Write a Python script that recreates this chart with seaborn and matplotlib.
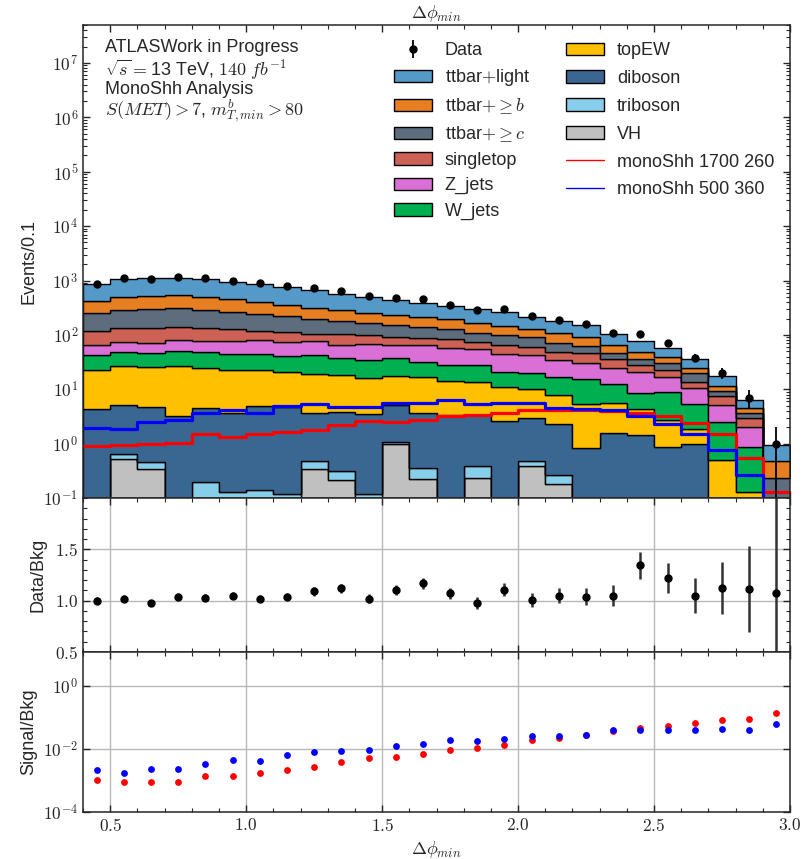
import numpy as np
import pandas as pd
import seaborn as sns
import matplotlib.pyplot as plt
import matplotlib.patches as mpatches
from matplotlib.lines import Line2D
from matplotlib.ticker import LogLocator, MultipleLocator, FuncFormatter, NullLocator, NullFormatter

# binning of delta phi min
edges = [round(0.4 + 0.1 * i, 2) for i in range(27)]
centers = (np.array(edges[:-1]) + np.array(edges[1:])) / 2

# cumulative stack tops (bottom -> top)
top_vh = [0, 0.53, 0.34, 0, 0, 0, 0, 0, 0.34, 0.21, 0, 1.0, 0.22, 0, 0.23, 0, 0.39, 0.18, 0, 0, 0, 0, 0, 0, 0, 0]
top_triboson = [0, 0.65, 0.46, 0, 0.2, 0.13, 0.14, 0.12, 0.47, 0.31, 0.12, 1.07, 0.36, 0, 0.39, 0, 0.47, 0.26, 0, 0, 0, 0, 0, 0, 0, 0]
top_diboson = [4.4, 5.1, 4.7, 3.2, 4.6, 3.6, 4.9, 4.7, 3.7, 3.8, 3.5, 5.2, 3.7, 3.4, 3.3, 2.6, 2.9, 2.3, 0.84, 1.56, 1.42, 0.86, 1.0, 0, 0, 0]
top_topew = [22.4, 27, 25.8, 26.6, 24.8, 23, 22.2, 20.7, 19.2, 18.2, 16.3, 17.9, 16.7, 14.1, 13.7, 11, 10.3, 7.7, 5.4, 5.6, 4.4, 2.68, 1.87, 0.5, 0.13, 0]
top_wjets = [43, 47.5, 47, 51, 47.5, 44, 43.6, 40.6, 41.8, 36.8, 33.9, 36.8, 31.6, 27.8, 27.7, 21, 19.5, 17, 15.5, 12.7, 8.6, 8.9, 5.3, 2.5, 0.86, 0]
top_zjets = [65, 75, 72, 80, 78, 77, 80, 74.6, 76.8, 63.8, 66.7, 63.8, 63.8, 56.2, 56, 44, 42, 34, 30, 25, 20.9, 16.9, 10.6, 5.1, 2.0, 0]
top_singletop = [119, 132, 132, 138, 132, 127, 117, 112, 106, 102, 97.5, 90.8, 88, 82.4, 75, 65, 59, 49, 45.5, 35.3, 27.7, 23, 13.7, 7.4, 2.9, 0]
top_ttc = [256, 287, 299, 309, 287, 266, 247, 221, 197, 179, 162, 151, 141, 126, 110, 99, 90, 72, 62, 46.8, 35.3, 29.8, 19.5, 9.3, 3.7, 0.23]
top_ttb = [427, 492, 528, 544, 507, 450, 411, 362, 315, 281, 255, 231, 212, 192, 163, 146, 126, 110, 90, 65, 49, 38.5, 25, 11.7, 4.6, 0.47]
top_ttlight = [868, 1075, 1104, 1120, 1075, 935, 870, 755, 664, 569, 501, 435, 389, 338, 296, 268, 216, 180, 152, 104, 78, 58, 36.3, 17.8, 6.3, 0.93]

data = [868, 1097, 1082, 1165, 1107, 982, 887, 785, 724, 637, 511, 479, 455, 362, 290, 297, 218, 189, 158, 109, 105, 71, 38, 20, 7, 1]

sig_1700_260 = [0.9, 0.94, 1.0, 1.02, 1.48, 1.33, 1.5, 1.65, 1.8, 2.2, 2.65, 2.45, 2.75, 3.25, 3.3, 3.6, 4.1, 4.1, 4.2, 4.0, 3.6, 3.2, 2.4, 1.5, 0.55, 0.13]
sig_500_360 = [1.92, 1.85, 2.5, 2.68, 3.7, 4.2, 3.7, 4.85, 5.3, 4.8, 4.8, 5.5, 5.6, 6.4, 5.3, 5.5, 5.5, 4.5, 4.3, 4.1, 3.2, 2.3, 1.5, 0.75, 0.26, 0.06]

# legend order = stack order from top to bottom
samples = ['ttbar+light', 'ttbar+b', 'ttbar+c', 'singletop', 'Z_jets', 'W_jets',
           'topEW', 'diboson', 'triboson', 'VH']
labels = ['ttbar$+$light', r'ttbar$+\geq b$', r'ttbar$+\geq c$', 'singletop', 'Z_jets', 'W_jets',
          'topEW', 'diboson', 'triboson', 'VH']
colors = ['#5499C7', '#E67E22', '#5D6D7E', '#CD6155', '#DA70D6', '#00B050',
          '#FFC000', '#3A6791', '#87CEEB', '#C0C0C0']

tops = np.array([top_ttlight, top_ttb, top_ttc, top_singletop, top_zjets, top_wjets,
                 top_topew, top_diboson, top_triboson, top_vh])
below = np.vstack([tops[1:], np.zeros(len(centers))])
yields = np.clip(tops - below, 0, None)

df = pd.concat([pd.DataFrame({'x': centers, 'w': y, 'sample': s}) for s, y in zip(samples, yields)])

bkg = np.array(top_ttlight)
data = np.array(data, dtype=float)
ratio = data / bkg
ratio_err = np.sqrt(data) / bkg
sb_red = np.array(sig_1700_260) / bkg
sb_blue = np.array(sig_500_360) / bkg

sns.set_style('ticks')
plt.rcParams['font.family'] = ['Liberation Sans', 'DejaVu Sans']
plt.rcParams['mathtext.fontset'] = 'cm'
plt.rcParams['axes.linewidth'] = 1.1

fig = plt.figure(figsize=(8.1, 8.59), dpi=100)
gs = fig.add_gridspec(3, 1, height_ratios=[473, 154, 160], hspace=0,
                      left=0.1025, right=0.9753, top=0.9709, bottom=0.0547)
ax = fig.add_subplot(gs[0])
axr = fig.add_subplot(gs[1], sharex=ax)
axs = fig.add_subplot(gs[2], sharex=ax)

# stacked backgrounds
sns.histplot(data=df, x='x', weights='w', hue='sample', hue_order=samples, bins=edges,
             multiple='stack', element='step', fill=True, palette=dict(zip(samples, colors)),
             alpha=1, edgecolor='black', linewidth=1, legend=False, ax=ax)

# signals
sns.histplot(x=centers, weights=sig_1700_260, bins=edges, element='step', fill=False,
             color='red', linewidth=2.3, ax=ax)
sns.histplot(x=centers, weights=sig_500_360, bins=edges, element='step', fill=False,
             color='blue', linewidth=2.3, ax=ax)

h_data = ax.errorbar(centers, data, yerr=np.sqrt(data), fmt='o', color='black',
                     ms=5, elinewidth=1.3, capsize=0, zorder=10)

pow_fmt = FuncFormatter(lambda v, p: r'$10^{%d}$' % int(round(np.log10(v))))

ax.set_yscale('log')
ax.set_ylim(0.1, 5e7)
ax.set_xlim(0.4, 3.0)
ax.yaxis.set_major_locator(LogLocator(base=10, numticks=20))
ax.yaxis.set_minor_locator(LogLocator(base=10, subs=np.arange(2, 10), numticks=20))
ax.yaxis.set_major_formatter(pow_fmt)
ax.yaxis.set_minor_formatter(NullFormatter())
ax.set_ylabel('Events/0.1', fontsize=13)
ax.set_xlabel('')
ax.set_title(r'$\Delta\phi_{min}$', fontsize=13, pad=5)

ax.text(0.031, 0.952, 'ATLASWork in Progress', transform=ax.transAxes, fontsize=13, va='center')
ax.text(0.031, 0.904, r'$\sqrt{s}=$13 TeV, $140\ fb^{-1}$', transform=ax.transAxes, fontsize=13, va='center')
ax.text(0.031, 0.864, 'MonoShh Analysis', transform=ax.transAxes, fontsize=13, va='center')
ax.text(0.031, 0.818, r'$S(MET)>7$, $m_{T,min}^{b}>80$', transform=ax.transAxes, fontsize=13, va='center')

# legend in two separate columns so rows line up like the reference
patches = [mpatches.Patch(facecolor=c, edgecolor='black', linewidth=1) for c in colors]
leg_kw = dict(frameon=False, fontsize=13, loc='upper left', handlelength=2.1,
              handleheight=0.7, handletextpad=0.7)
leg1 = ax.legend([h_data] + patches[:6], ['Data'] + labels[:6],
                 bbox_to_anchor=(0.4173, 0.998), labelspacing=0.45, **leg_kw)
ax.add_artist(leg1)
ax.legend(patches[6:] + [Line2D([], [], color='red', lw=1), Line2D([], [], color='blue', lw=1)],
          labels[6:] + ['monoShh 1700 260', 'monoShh 500 360'],
          bbox_to_anchor=(0.6605, 0.998), labelspacing=0.6, **leg_kw)

# data / bkg
axr.errorbar(centers, ratio, yerr=ratio_err, fmt='o', color='black', ecolor='#333333',
             ms=5, elinewidth=1.8, capsize=0)
axr.set_ylim(0.5, 2.0)
axr.set_yticks([0.5, 1.0, 1.5])
axr.yaxis.set_minor_locator(MultipleLocator(0.1))
axr.yaxis.set_major_formatter(FuncFormatter(lambda v, p: f'${v:.1f}$'))
axr.grid(True, which='major', color='#b8b8b8', lw=1)
axr.set_ylabel('Data/Bkg', fontsize=13, labelpad=6)

# signal / bkg
sns.scatterplot(x=centers, y=sb_red, color='red', s=24, linewidth=0, ax=axs)
sns.scatterplot(x=centers, y=sb_blue, color='blue', s=24, linewidth=0, ax=axs)
axs.set_yscale('log')
axs.set_ylim(1e-4, 12)
axs.set_yticks([1e-4, 1e-2, 1])
axs.yaxis.set_major_formatter(pow_fmt)
axs.yaxis.set_minor_locator(NullLocator())
axs.grid(True, which='major', color='#b8b8b8', lw=1)
axs.set_ylabel('Signal/Bkg', fontsize=13)
axs.set_xlabel(r'$\Delta\phi_{min}$', fontsize=13)

for a in (ax, axr, axs):
    a.xaxis.set_major_locator(MultipleLocator(0.5))
    a.xaxis.set_minor_locator(MultipleLocator(0.1))
    a.tick_params(which='both', direction='in', top=True, right=True, labelsize=12.5)
    a.tick_params(which='major', length=5, width=1)
    a.tick_params(which='minor', length=3, width=0.8)
axs.xaxis.set_major_formatter(FuncFormatter(lambda v, p: f'${v:.1f}$'))
ax.tick_params(labelbottom=False)
axr.tick_params(labelbottom=False)
axs.set_xlim(0.4, 3.0)

fig.savefig('out.png', dpi=100)
